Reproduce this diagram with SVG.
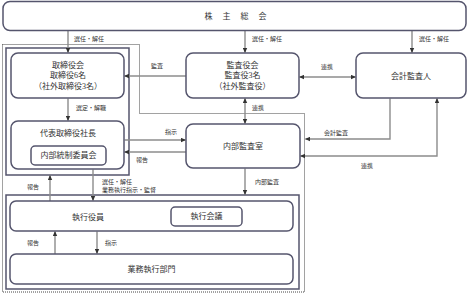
<svg xmlns="http://www.w3.org/2000/svg" width="469" height="293" viewBox="0 0 469 293">
<style>
.box{fill:#fff;stroke:#55556d;stroke-width:1.5}
.grp{fill:none;stroke:#55556d;stroke-width:1.5}
.dot{fill:none;stroke:#444;stroke-width:1;stroke-dasharray:1 1}
.ln{fill:none;stroke:#8c8c8c;stroke-width:1.4}
text{font-family:"Liberation Serif","Noto Sans CJK JP",serif;fill:#333;dominant-baseline:central}
.t{font-size:8px;text-anchor:middle}
.l{font-size:6px}
.lc{font-size:6px;text-anchor:middle}
</style>
<defs>
<marker id="ah" markerUnits="userSpaceOnUse" markerWidth="5" markerHeight="5" refX="4.5" refY="2.5" orient="auto-start-reverse">
<path d="M0,0.3 L5,2.5 L0,4.7 z" fill="#333"/>
</marker>
</defs>
<rect width="469" height="293" fill="#fff"/>
<g id="groups">
<path class="dot" d="M2.5,44.5 H139.5 V113.5 H304.5 V292 H2.5 Z"/>
<rect class="grp" x="6" y="48" width="123" height="127"/>
<rect class="grp" x="6" y="195" width="293" height="94"/>
</g>
<g id="connectors">
<path class="ln" d="M68,31 V52.5" marker-end="url(#ah)"/>
<path class="ln" d="M245,31 V52.5" marker-end="url(#ah)"/>
<path class="ln" d="M412,31 V52.5" marker-end="url(#ah)"/>
<path class="ln" d="M186,76 H124.5" marker-end="url(#ah)"/>
<path class="ln" d="M299.5,77 H355.5" marker-start="url(#ah)" marker-end="url(#ah)"/>
<path class="ln" d="M68,98.5 V120.5" marker-end="url(#ah)"/>
<path class="ln" d="M245,98.5 V123.5" marker-start="url(#ah)" marker-end="url(#ah)"/>
<path class="ln" d="M124.5,140 H185.5" marker-end="url(#ah)"/>
<path class="ln" d="M186,152 H124.5" marker-end="url(#ah)"/>
<path class="ln" d="M245,168.5 V194.5" marker-end="url(#ah)"/>
<path class="ln" d="M390,98.5 V139 H305.5" marker-end="url(#ah)"/>
<path class="ln" d="M300.5,156 H437 V98.5" marker-start="url(#ah)" marker-end="url(#ah)"/>
<path class="ln" d="M50,201 V175.5" marker-end="url(#ah)"/>
<path class="ln" d="M93,169.5 V200.5" marker-end="url(#ah)"/>
<path class="ln" d="M55,254 V231.5" marker-end="url(#ah)"/>
<path class="ln" d="M97,231.5 V253.5" marker-end="url(#ah)"/>
<text class="l" x="74" y="39">選任・解任</text>
<text class="l" x="252" y="39">選任・解任</text>
<text class="l" x="419" y="39">選任・解任</text>
<text class="lc" x="157" y="66">監査</text>
<text class="lc" x="327" y="67">連携</text>
<text class="l" x="76" y="108">選定・解職</text>
<text class="l" x="252" y="108">連携</text>
<text class="lc" x="171" y="132">指示</text>
<text class="lc" x="142" y="160">報告</text>
<text class="l" x="255" y="182">内部監査</text>
<text class="lc" x="336" y="133">会計監査</text>
<text class="lc" x="367" y="166">連携</text>
<text class="lc" x="33" y="187">報告</text>
<text class="l" x="102" y="182">選任・解任</text>
<text class="l" x="102" y="190">業務執行指示・監督</text>
<text class="lc" x="33" y="243">報告</text>
<text class="l" x="105" y="243">指示</text>
</g>
<g id="n-shareholders">
<rect class="box" x="3" y="1.5" width="463" height="29" rx="7"/>
<text class="t" x="236" y="16" style="letter-spacing:1px">株　主　総　会</text>
</g>
<g id="n-board">
<rect class="box" x="11" y="53" width="113" height="45" rx="7"/>
<text class="t" x="68" y="65">取締役会</text>
<text class="t" x="68" y="75.5">取締役6名</text>
<text class="t" x="68" y="86">（社外取締役3名）</text>
</g>
<g id="n-president">
<rect class="box" x="11" y="121" width="113" height="48" rx="7"/>
<text class="t" x="68" y="133">代表取締役社長</text>
</g>
<g id="n-internal-control">
<rect class="box" x="31" y="146" width="75" height="19" rx="4"/>
<text class="t" x="68.5" y="155.5">内部統制委員会</text>
</g>
<g id="n-auditors">
<rect class="box" x="186" y="53" width="113" height="45" rx="7"/>
<text class="t" x="242.5" y="65">監査役会</text>
<text class="t" x="242.5" y="75.5">監査役3名</text>
<text class="t" x="242.5" y="86">（社外監査役）</text>
</g>
<g id="n-accounting-auditor">
<rect class="box" x="356" y="53" width="110" height="45" rx="7"/>
<text class="t" x="411" y="76">会計監査人</text>
</g>
<g id="n-internal-audit">
<rect class="box" x="186" y="124" width="114" height="44" rx="7"/>
<text class="t" x="243" y="146">内部監査室</text>
</g>
<g id="n-officers">
<rect class="box" x="10" y="201" width="283" height="30" rx="6"/>
<text class="t" x="88" y="217">執行役員</text>
</g>
<g id="n-exec-meeting">
<rect class="box" x="171" y="207" width="71" height="19" rx="4"/>
<text class="t" x="206.5" y="216.5">執行会議</text>
</g>
<g id="n-business">
<rect class="box" x="10" y="254" width="283" height="30" rx="6"/>
<text class="t" x="151.5" y="269">業務執行部門</text>
</g>
</svg>
